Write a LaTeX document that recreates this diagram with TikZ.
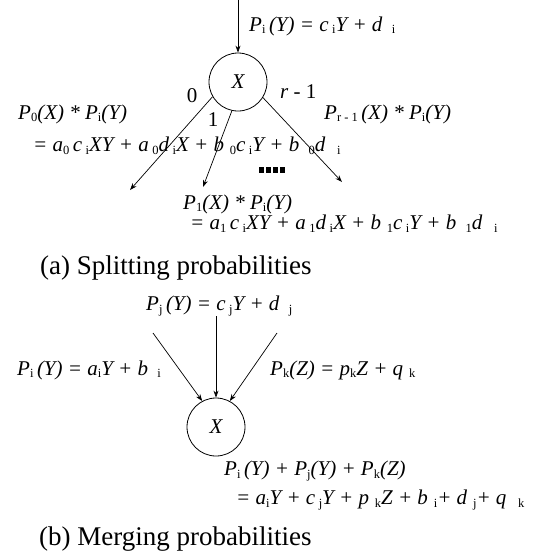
\documentclass[tikz,border=0pt]{standalone}
\usepackage{fontspec}
\setmainfont{Liberation Serif}
\usetikzlibrary{arrows.meta}
\newcommand{\sbx}[1]{\raisebox{-0.3ex}{\fontsize{12.5}{12.5}\selectfont\upshape #1}}
\newcommand{\eqf}{\fontsize{21}{25}\selectfont\itshape}
\begin{document}
\begin{tikzpicture}[x=1pt,y=-1pt,
  eq/.style={font=\eqf,inner sep=0pt,anchor=west},
  captext/.style={font=\fontsize{27}{30}\selectfont,inner sep=0pt,anchor=west},
  lab/.style={font=\eqf,inner sep=0pt},
  state/.style={circle,draw,line width=0.8pt,minimum size=58pt,inner sep=0pt,font=\eqf},
  arr/.style={line width=0.7pt,-{Stealth[length=7pt,width=5pt]}},
  dotbar/.style={fill=black}]
\useasboundingbox (0,0) rectangle (543,558);
% (a) splitting
\node[state] (ca) at (238,82) {X};
\coordinate (ain) at (238,0);
\draw[arr] (ain) -- (ca.north);
\node[eq] (t1) at (249,26) {P\sbx{i}\,(Y) = c\,\sbx{i}Y + d\;\,\sbx{i}};
\node[lab] (l0) at (192,96) {\upshape 0};
\node[lab] (l1) at (213,120) {\upshape 1};
\node[eq] (lr) at (280,92) {r\upshape\ -\ 1};
\node[eq] (p0) at (18,114) {P\sbx{0}(X) * P\sbx{i}(Y)};
\node[eq] (pr) at (324,114) {P\sbx{r - 1}\,(X) * P\sbx{i}(Y)};
\node[eq] (e0) at (33,146) {= a\sbx{0}\,c\,\sbx{i}XY + a\,\sbx{0}d\,\sbx{i}X + b\;\sbx{0}c\,\sbx{i}Y + b\;\,\sbx{0}d\;\;\sbx{i}};
\coordinate (o0) at (130,190);
\coordinate (o1) at (203,187);
\coordinate (or) at (342,182);
\draw[arr] (ca.210) -- (o0);
\draw[arr] (ca.258) -- (o1);
\draw[arr] (ca.328) -- (or);
\foreach \i in {0,1,2,3} {\fill[dotbar] (259+\i*7,167) rectangle ++(4.5,6);}
\node[eq] (p1) at (183,204) {P\sbx{1}(X) * P\sbx{i}(Y)};
\node[eq] (e1) at (190,224) {= a\sbx{1}\,c\,\sbx{i}XY + a\,\sbx{1}d\,\sbx{i}X + b\;\sbx{1}c\,\sbx{i}Y + b\;\,\sbx{1}d\;\;\sbx{i}};
\node[captext] (capa) at (40,268) {(a) Splitting probabilities};
% (b) merging
\node[state] (cb) at (216,427) {X};
\node[eq] (tj) at (146,306) {P\sbx{j}\,(Y) = c\,\sbx{j}Y + d\;\,\sbx{j}};
\node[eq] (ti) at (17,370) {P\sbx{i}\,(Y) = a\sbx{i}Y + b\;\,\sbx{i}};
\node[eq] (tk) at (270,370) {P\sbx{k}(Z) = p\sbx{k}Z + q\;\sbx{k}};
\coordinate (ij) at (216,316);
\coordinate (ii) at (153,333);
\coordinate (ik) at (277,333);
\draw[arr] (ij) -- (cb.north);
\draw[arr] (ii) -- (cb.118);
\draw[arr] (ik) -- (cb.62);
\node[eq] (sum) at (224,471) {P\sbx{i}\,(Y) + P\sbx{j}(Y) + P\sbx{k}(Z)};
\node[eq] (es) at (236,500) {= a\sbx{i}Y + c\,\sbx{j}Y + p\;\sbx{k}Z + b\;\sbx{i}+ d\;\sbx{j}+ q\;\;\sbx{k}};
\node[captext] (capb) at (39,539) {(b) Merging probabilities};
\end{tikzpicture}
\end{document}
